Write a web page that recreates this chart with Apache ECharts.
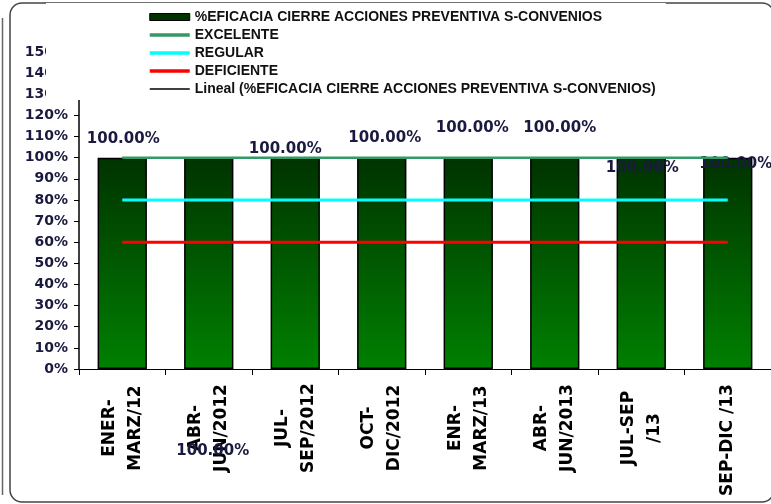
<!DOCTYPE html>
<html>
<head>
<meta charset="utf-8">
<script src="https://cdn.jsdelivr.net/npm/echarts@6/dist/echarts.min.js"></script>
<style>
html, body { margin: 0; padding: 0; background: #fff; }
#chart { width: 771px; height: 504px; }
</style>
</head>
<body>
<div id="chart"></div>
<script>
// datos
var categorias = ['ENER-\nMARZ/12', 'ABR-\nJUN/2012', 'JUL-\nSEP/2012', 'OCT-\nDIC/2012',
                  'ENR-\nMARZ/13', 'ABR-\nJUN/2013', 'JUL-SEP\n/13', 'SEP-DIC /13'];
var eficacia   = [100, 100, 100, 100, 100, 100, 100, 100];
var excelente  = [100, 100, 100, 100, 100, 100, 100, 100];
var regular    = [80, 80, 80, 80, 80, 80, 80, 80];
var deficiente = [60, 60, 60, 60, 60, 60, 60, 60];
var lineal     = [100, 100, 100, 100, 100, 100, 100, 100];

var nombreBarra = '%EFICACIA CIERRE ACCIONES PREVENTIVA S-CONVENIOS';
var nombreLineal = 'Lineal (%EFICACIA CIERRE ACCIONES PREVENTIVA S-CONVENIOS)';

var myChart = echarts.init(document.getElementById('chart'));

// las etiquetas de excel quedaron descolocadas, se corrigen a mano
var desplaza = [[1, -11], [4, 301], [-10, -1], [3, -12], [4, -22], [5, -22], [1, 18], [8, 14]];

var sinPunto = { opacity: 0 };   // solo la linea en la leyenda

var option = {
    animation: false,
    backgroundColor: '#fff',
    graphic: [
        {   // marco redondeado
            type: 'rect',
            shape: { x: 10, y: 3, width: 764, height: 499, r: 12 },
            style: { fill: 'none', stroke: '#444', lineWidth: 1.5 },
            z: -1
        },
        {
            type: 'line',
            shape: { x1: 2.5, y1: 18, x2: 2.5, y2: 495 },
            style: { stroke: '#666', lineWidth: 1.5 },
            z: -1
        }
    ],
    grid: { left: 79, right: -2, top: 52, bottom: 135, containLabel: false },
    legend: {
        orient: 'vertical',
        left: 46,
        top: 3,
        padding: [6, 10, 3, 102],
        backgroundColor: '#fff',
        itemWidth: 40,
        itemHeight: 7,
        itemGap: 2,
        textStyle: {
            fontFamily: 'Liberation Sans',
            fontWeight: 'bold',
            fontSize: 14,
            lineHeight: 16,
            color: '#111'
        },
        data: [
            { name: nombreBarra, icon: 'rect',
              itemStyle: { color: '#003300', borderColor: '#000', borderWidth: 1 } },
            { name: 'EXCELENTE', itemStyle: sinPunto, lineStyle: { width: 3.5 } },
            { name: 'REGULAR', itemStyle: sinPunto, lineStyle: { width: 3.5 } },
            { name: 'DEFICIENTE', itemStyle: sinPunto, lineStyle: { width: 3.5 } },
            { name: nombreLineal, itemStyle: sinPunto, lineStyle: { width: 1.5 } }
        ]
    },
    xAxis: {
        type: 'category',
        data: categorias,
        axisLine: { lineStyle: { color: '#000', width: 1 } },
        axisTick: { show: true, length: 6, lineStyle: { color: '#000' } },
        axisLabel: {
            interval: 0,
            rotate: 90,
            align: 'center',
            verticalAlign: 'middle',
            margin: 59,
            fontFamily: 'DejaVu Sans',
            fontWeight: 'bold',
            fontSize: 17,
            lineHeight: 26,
            color: '#000',
            formatter: function (v, i) {
                return i === 7 ? '{cola|' + v + '}' : v;
            },
            rich: {
                cola: { fontFamily: 'DejaVu Sans', fontWeight: 'bold', fontSize: 17,
                        color: '#000', padding: [0, 24, 0, 0] }
            }
        }
    },
    yAxis: {
        type: 'value',
        min: 0,
        max: 150,
        interval: 10,
        splitLine: { show: false },
        axisLine: { show: true, lineStyle: { color: '#000', width: 1.5 } },
        axisTick: { show: true, length: 5, lineStyle: { color: '#000' } },
        axisLabel: {
            margin: 11,
            formatter: '{value}%',
            fontFamily: 'DejaVu Sans',
            fontWeight: 'bold',
            fontSize: 14,
            color: '#1a1a40'
        }
    },
    series: [
        {
            name: nombreBarra,
            type: 'bar',
            barWidth: '57%',
            data: eficacia.map(function (v, i) {
                return { value: v, label: { offset: desplaza[i] } };
            }),
            itemStyle: {
                color: new echarts.graphic.LinearGradient(0, 0, 0, 1, [
                    { offset: 0, color: '#003300' },
                    { offset: 1, color: '#008000' }
                ]),
                borderColor: '#000',
                borderWidth: 1.5
            },
            label: {
                show: true,
                position: 'top',
                distance: 0,
                fontFamily: 'DejaVu Sans',
                fontWeight: 'bold',
                fontSize: 15,
                color: '#1a1a40',
                formatter: function (p) { return p.value.toFixed(2) + '%'; }
            }
        },
        {
            name: nombreLineal,
            type: 'line',
            data: lineal,
            symbol: 'none',
            color: '#000',
            lineStyle: { color: '#000', width: 1 }
        },
        {
            name: 'EXCELENTE',
            type: 'line',
            data: excelente,
            symbol: 'none',
            color: '#339966',
            lineStyle: { color: '#339966', width: 2.5 }
        },
        {
            name: 'REGULAR',
            type: 'line',
            data: regular,
            symbol: 'none',
            color: '#00ffff',
            lineStyle: { color: '#00ffff', width: 3 }
        },
        {
            name: 'DEFICIENTE',
            type: 'line',
            data: deficiente,
            symbol: 'none',
            color: '#ff0000',
            lineStyle: { color: '#ff0000', width: 3 }
        }
    ]
};

myChart.setOption(option);
</script>
</body>
</html>
